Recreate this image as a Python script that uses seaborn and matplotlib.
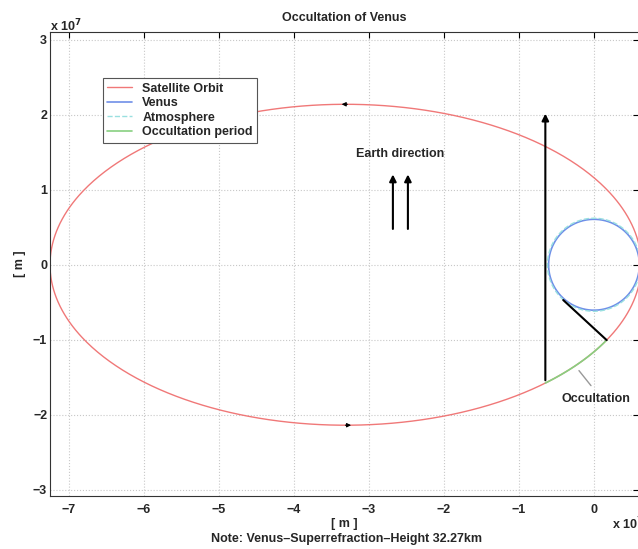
import numpy as np
import pandas as pd
import matplotlib.pyplot as plt
import seaborn as sns

# orbit geometry, in units of 1e7 m (Venus at the focus)
periapsis = 0.63
apoapsis = 7.25
venus_radius = 0.6052
atmosphere_radius = 0.62
# eccentric anomaly (deg) where the occultation period starts / ends
occ_start_deg = -47.5
occ_end_deg = -28.0
# limb point where the grazing ray touches Venus
limb_point = [-0.41, -0.47]
# earth direction arrows
earth_x = [-2.68, -2.48]
earth_y = [0.44, 1.24]
ray_top = 2.05

sns.set_theme(style="whitegrid")
plt.rcParams['font.family'] = ['Liberation Sans', 'DejaVu Sans']
plt.rcParams['font.weight'] = 'bold'

a = (periapsis + apoapsis) / 2
c = a - periapsis
b = np.sqrt(periapsis * apoapsis)

E = np.linspace(0, 2 * np.pi, 721)
orbit = pd.DataFrame({'x': -c + a * np.cos(E), 'y': b * np.sin(E)})
venus = pd.DataFrame({'x': venus_radius * np.cos(E), 'y': venus_radius * np.sin(E)})
atmos = pd.DataFrame({'x': atmosphere_radius * np.cos(E), 'y': atmosphere_radius * np.sin(E)})
Eo = np.radians(np.linspace(occ_start_deg, occ_end_deg, 60))
occ = pd.DataFrame({'x': -c + a * np.cos(Eo), 'y': b * np.sin(Eo)})

fig = plt.figure(figsize=(6.38, 5.49), dpi=100)
ax = fig.add_axes([50 / 638, 53 / 549, 589 / 638, 464 / 549])
ax.set_facecolor('white')

sns.lineplot(data=orbit, x='x', y='y', sort=False, estimator=None, color='#f07878', lw=1, ax=ax, label='Satellite Orbit')
sns.lineplot(data=venus, x='x', y='y', sort=False, estimator=None, color='#6f8fe8', lw=1.2, ax=ax, label='Venus')
sns.lineplot(data=atmos, x='x', y='y', sort=False, estimator=None, color='#99e0e0', lw=1, ls='--', ax=ax, label='Atmosphere')
sns.lineplot(data=occ, x='x', y='y', sort=False, estimator=None, color='#88d080', lw=1.2, ax=ax, label='Occultation period')

# grazing ray to the limb and line of sight towards Earth
x0, y0 = occ['x'].iloc[0], occ['y'].iloc[0]
x1, y1 = occ['x'].iloc[-1], occ['y'].iloc[-1]
ax.plot([x1, limb_point[0]], [y1, limb_point[1]], color='black', lw=1.5)
ax.annotate('', xy=(x0, ray_top), xytext=(x0, y0),
            arrowprops=dict(arrowstyle='-|>', color='black', lw=1.5, mutation_scale=10))
for ex in earth_x:
    ax.annotate('', xy=(ex, earth_y[1]), xytext=(ex, earth_y[0]),
                arrowprops=dict(arrowstyle='-|>', color='black', lw=1.5, mutation_scale=10))
ax.text(np.mean(earth_x), 1.47, 'Earth direction', ha='center', va='center', fontsize=9, fontweight='bold')

# direction of motion on the orbit
ax.annotate('', xy=(-3.40, b), xytext=(-3.25, b),
            arrowprops=dict(arrowstyle='-|>', color='black', lw=0.8, mutation_scale=6))
ax.annotate('', xy=(-3.20, -b), xytext=(-3.35, -b),
            arrowprops=dict(arrowstyle='-|>', color='black', lw=0.8, mutation_scale=6))

ax.plot([-0.20, -0.04], [-1.41, -1.61], color='#999999', lw=1)
ax.text(0.03, -1.79, 'Occultation', ha='center', va='center', fontsize=9, fontweight='bold')

ax.set_xlim(-7.25, 0.6)
ax.set_ylim(-3.08, 3.1)
ax.set_xticks(range(-7, 1))
ax.set_yticks(range(-3, 4))
ax.tick_params(direction='in', length=4, width=0.8, labelsize=9, top=True, right=True,
               color='black')
ax.tick_params(axis='x', pad=6)
ax.tick_params(axis='y', pad=2)
for lab in ax.get_xticklabels() + ax.get_yticklabels():
    lab.set_fontweight('bold')
ax.grid(True, ls=':', color='#c8c8c8', lw=0.8)
for s in ax.spines.values():
    s.set_color('#333333')
    s.set_linewidth(0.8)

ax.set_xlabel('[ m ]', fontsize=9, fontweight='bold', labelpad=1)
ax.set_ylabel('[ m ]', fontsize=9, fontweight='bold', labelpad=5)
ax.set_title('Occultation of Venus', fontsize=9, fontweight='bold', pad=8)

fig.text(50 / 638, 1 - 31 / 549, 'x 10$^{7}$', fontsize=9, fontweight='bold', ha='left', va='baseline')
fig.text(612 / 638, 1 - 529 / 549, 'x 10$^{7}$', fontsize=9, fontweight='bold', ha='left', va='baseline')
fig.text(346 / 638, 1 - 539 / 549, 'Note: Venus\u2013Superrefraction\u2013Height 32.27km',
         fontsize=9, fontweight='bold', ha='center', va='center')

leg = ax.legend(loc='upper left', bbox_to_anchor=(0.09, 0.90), fontsize=9, frameon=True,
                fancybox=False, edgecolor='#555555', framealpha=1, borderpad=0.35,
                labelspacing=0.2, handlelength=2.0, handletextpad=0.8, borderaxespad=0)
leg.get_frame().set_linewidth(0.8)
for t in leg.get_texts():
    t.set_fontweight('bold')

fig.savefig('out.png', dpi=100)
